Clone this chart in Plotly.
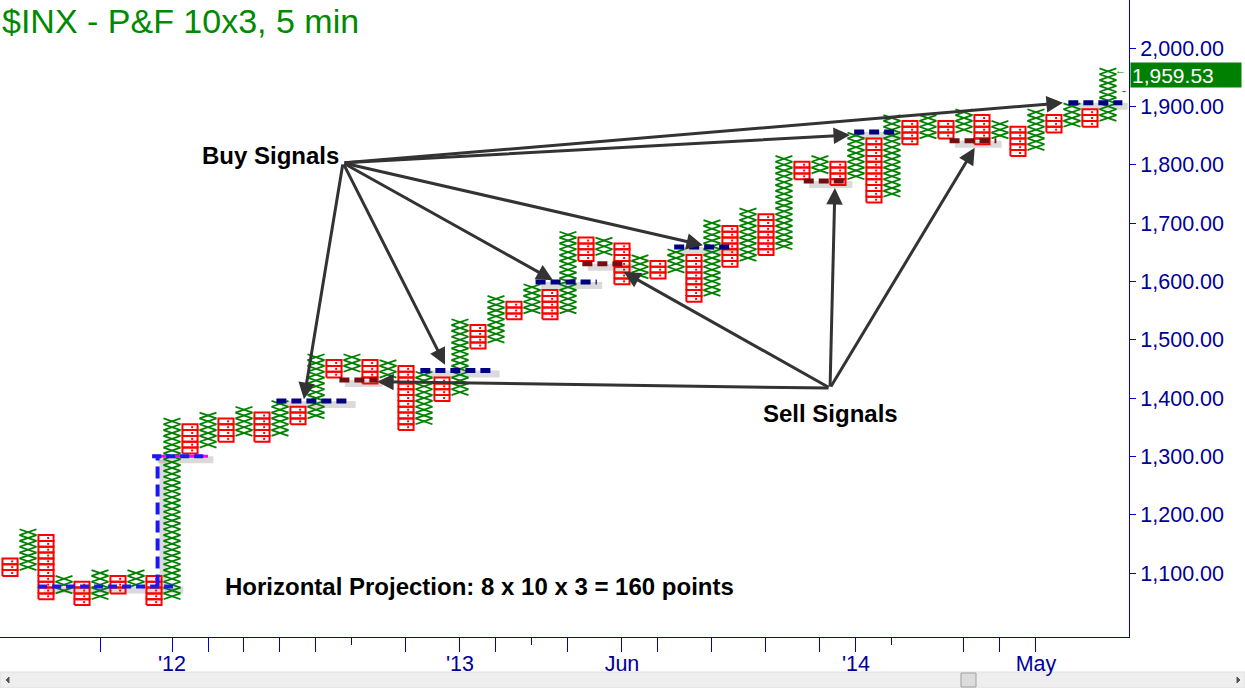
import plotly.graph_objects as go

# ---------------- data ----------------
BOX = 10
col_types = ["O", "X"] * 31
col_low = [1100, 1110, 1060, 1070, 1050, 1060, 1070, 1080, 1050, 1060,
           1310, 1320, 1330, 1340, 1330, 1340, 1360, 1370, 1440, 1450,
           1430, 1440, 1350, 1360, 1400, 1410, 1490, 1500, 1540, 1550,
           1540, 1550, 1640, 1650, 1600, 1610, 1610, 1620, 1570, 1580,
           1630, 1640, 1650, 1660, 1780, 1790, 1770, 1780, 1740, 1750,
           1840, 1850, 1850, 1860, 1840, 1850, 1820, 1830, 1860, 1870,
           1870, 1880]
col_high = [1120, 1170, 1160, 1090, 1080, 1100, 1090, 1100, 1090, 1360,
            1350, 1370, 1360, 1380, 1370, 1390, 1380, 1470, 1460, 1470,
            1460, 1460, 1450, 1440, 1430, 1530, 1520, 1570, 1560, 1590,
            1580, 1680, 1670, 1670, 1660, 1640, 1630, 1650, 1640, 1700,
            1690, 1720, 1710, 1810, 1800, 1810, 1800, 1850, 1840, 1880,
            1870, 1880, 1870, 1890, 1880, 1870, 1860, 1890, 1880, 1900,
            1890, 1960]
last_price = 1959.53
last_label = "1,959.53"

price_ticks = [1100, 1200, 1300, 1400, 1500, 1600, 1700, 1800, 1900, 2000]
date_tick_cols = [5, 9, 11, 13, 15, 17, 19, 22, 25, 27, 29, 31, 34, 36, 39, 42, 45, 47, 49, 53, 55, 57]
date_tick_text = ["", "'12", "", "", "", "", "", "", "'13", "", "", "", "Jun", "", "", "", "", "'14", "", "", "", "May"]
long_tick_cols = [5, 9, 11, 13, 15, 17, 22, 25, 27, 31, 34, 36, 39, 42, 45, 47, 53, 55, 57]

# signal lines: level, start column, end column
buy_levels = [1395, 1447, 1599, 1659, 1856, 1906]
buy_start = [14.8, 22.8, 29.2, 36.9, 46.9, 58.8]
buy_end = [18.9, 26.9, 32.6, 40.2, 49.4, 61.8]
sell_levels = [1431, 1630, 1772, 1841]
sell_start = [18.3, 31.8, 44.1, 52.2]
sell_end = [20.4, 34.3, 46.5, 54.8]

# horizontal projection
proj_base, proj_top = 1077, 1300
proj_base_x = [1.56, 9.33]
proj_vert_x = 8.2
proj_top_x = [7.9, 11.0]

# arrows: (head col, head price)
buy_origin = (18.5, 1803)
buy_heads = [(16.33, 1398), (24.17, 1457), (30.17, 1602), (38.5, 1662), (46.67, 1851), (58.5, 1906)]
sell_origin = (45.56, 1417)
sell_heads = [(20.4, 1428), (34.1, 1616), (45.83, 1760), (53.6, 1829)]

# ---------------- build marks ----------------
xs_x, ys_x, xs_o, ys_o, mx, my = [], [], [], [], [], []
for i, (t, lo, hi) in enumerate(zip(col_types, col_low, col_high)):
    n = int(round((hi - lo) / BOX)) + 1
    for k in range(n):
        v = lo + k * BOX
        h = BOX / 2
        if t == "X":
            w = 0.47
            xs_x += [i - w, i + w, None, i - w, i + w, None]
            ys_x += [v - h, v + h, None, v + h, v - h, None]
        else:
            w = 0.42
            xs_o += [i - w, i + w, i + w, i - w, i - w, None]
            ys_o += [v - h, v - h, v + h, v + h, v - h, None]
            mx.append(i + 0.12)
            my.append(v)

fig = go.Figure()

def seg_trace(xs, ys, color, width, dash=None, opacity=1.0):
    fig.add_trace(go.Scatter(x=xs, y=ys, mode="lines", hoverinfo="skip",
                             line=dict(color=color, width=width, dash=dash),
                             opacity=opacity, showlegend=False))

# shadows
sx, sy = [], []
for lv, a, b in zip(buy_levels + sell_levels, buy_start + sell_start, buy_end + sell_end):
    sx += [a + 0.3, b + 0.3, None]
    sy += [lv - 6, lv - 6, None]
sx += [proj_base_x[0] + 0.3, proj_base_x[1] + 0.3, None, proj_vert_x + 0.3, proj_vert_x + 0.3, None,
       proj_top_x[0] + 0.3, proj_top_x[1] + 0.3, None]
sy += [proj_base - 6, proj_base - 6, None, proj_base - 6, proj_top - 6, None, proj_top - 6, proj_top - 6, None]
seg_trace(sx, sy, "rgba(150,150,150,0.35)", 7)

# P&F columns
fig.add_trace(go.Scatter(x=xs_x, y=ys_x, mode="lines", hoverinfo="skip",
                         line=dict(color="#008000", width=1.8), showlegend=False))
fig.add_trace(go.Scatter(x=xs_o, y=ys_o, mode="lines", hoverinfo="skip",
                         line=dict(color="#FF0000", width=2), showlegend=False))
fig.add_trace(go.Scatter(x=mx, y=my, mode="markers", hoverinfo="skip",
                         marker=dict(symbol="square", size=2, color="#FF0000", line=dict(width=0)),
                         showlegend=False))

# projection lines
seg_trace(proj_top_x, [proj_top, proj_top], "#FF00FF", 3)
seg_trace(proj_top_x, [proj_top, proj_top], "#1A1AF0", 4, dash="9px,5px")
seg_trace(proj_base_x, [proj_base, proj_base], "#1A1AF0", 4, dash="9px,5px")
seg_trace([proj_vert_x, proj_vert_x], [proj_base, proj_top], "#1A1AF0", 4, dash="12px,6px")

# signal lines
bx, by = [], []
for lv, a, b in zip(buy_levels, buy_start, buy_end):
    bx += [a, b, None]; by += [lv, lv, None]
seg_trace(bx, by, "#000080", 5, dash="10px,5px")
rx, ry = [], []
for lv, a, b in zip(sell_levels, sell_start, sell_end):
    rx += [a, b, None]; ry += [lv, lv, None]
seg_trace(rx, ry, "#701010", 5, dash="10px,5px")

annotations = []
for (hx, hy) in buy_heads:
    annotations.append(dict(x=hx, y=hy, ax=buy_origin[0], ay=buy_origin[1], xref="x", yref="y",
                            axref="x", ayref="y", text="", showarrow=True, arrowhead=2,
                            arrowsize=1.1, arrowwidth=3, arrowcolor="#333333", standoff=0))
for (hx, hy) in sell_heads:
    annotations.append(dict(x=hx, y=hy, ax=sell_origin[0], ay=sell_origin[1], xref="x", yref="y",
                            axref="x", ayref="y", text="", showarrow=True, arrowhead=2,
                            arrowsize=1.1, arrowwidth=3, arrowcolor="#333333", standoff=0))

lbl_font = dict(family="Arial, Liberation Sans, sans-serif", size=24, color="#000000")
annotations += [
    dict(x=14.5, y=1815, xref="x", yref="y", text="<b>Buy Signals</b>", showarrow=False, font=lbl_font),
    dict(x=45.56, y=1374, xref="x", yref="y", text="<b>Sell Signals</b>", showarrow=False, font=lbl_font),
    dict(x=26.1, y=1077.7, xref="x", yref="y", text="<b>Horizontal Projection: 8 x 10 x 3 = 160 points</b>",
         showarrow=False, font=lbl_font),
    dict(x=0.0, y=(637 - 21) / 637, xref="paper", yref="paper", xanchor="left", yanchor="middle",
         text="$INX - P&F 10x3, 5 min", showarrow=False,
         font=dict(family="Arial, Liberation Sans, sans-serif", size=34, color="#008A00")),
    dict(x=1, y=last_price, xref="paper", yref="y", xanchor="left", yanchor="middle", xshift=1, yshift=-3,
         text=last_label, showarrow=False, bgcolor="#008000", width=108, height=22, align="left",
         borderpad=1, font=dict(family="Arial, Liberation Sans, sans-serif", size=21, color="#FFFFFF")),
    dict(x=1, y=last_price, xref="paper", yref="y", xanchor="right", yanchor="middle", xshift=-1, yshift=2,
         text="←", showarrow=False, font=dict(family="Arial, Liberation Sans, sans-serif", size=11, color="#008000")),
    dict(x=1, y=1928, xref="paper", yref="y", xanchor="right", yanchor="middle", xshift=-1,
         text="-", showarrow=False, font=dict(family="Arial, Liberation Sans, sans-serif", size=13, color="#FF0000")),
]

# scrollbar decoration
shapes = [
    dict(type="rect", xref="paper", yref="paper", x0=0, x1=1245 / 1129, y0=(637 - 672) / 637, y1=(637 - 688) / 637,
         fillcolor="#EEEEEE", line=dict(color="#E0E0E0", width=1), layer="below"),
    dict(type="rect", xref="paper", yref="paper", x0=961 / 1129, x1=976 / 1129, y0=(637 - 673) / 637,
         y1=(637 - 687) / 637, fillcolor="#DCDCDC", line=dict(color="#A0A0A0", width=1), layer="below"),
    dict(type="path", xref="paper", yref="paper",
         path="M %f,%f L %f,%f L %f,%f Z" % (6 / 1129, (637 - 680) / 637, 9 / 1129, (637 - 677) / 637,
                                              9 / 1129, (637 - 683) / 637),
         fillcolor="#555555", line=dict(color="#555555", width=1)),
    dict(type="path", xref="paper", yref="paper",
         path="M %f,%f L %f,%f L %f,%f Z" % (1240 / 1129, (637 - 680) / 637, 1237 / 1129, (637 - 677) / 637,
                                              1237 / 1129, (637 - 683) / 637),
         fillcolor="#555555", line=dict(color="#555555", width=1)),
]

axis_font = dict(family="Arial, Liberation Sans, sans-serif", size=21.5, color="#000099")
fig.update_layout(
    width=1245, height=688,
    margin=dict(l=0, r=116, t=0, b=51),
    paper_bgcolor="white", plot_bgcolor="white",
    showlegend=False,
    annotations=annotations,
    shapes=shapes,
    xaxis=dict(range=[-0.556, 62.17], showgrid=False, zeroline=False,
               showline=True, linecolor="#0000CC", linewidth=1,
               ticks="outside", ticklen=7, tickcolor="#0000CC", tickwidth=1,
               tickmode="array", tickvals=date_tick_cols, ticktext=date_tick_text,
               tickfont=axis_font,
               minor=dict(tickmode="array", tickvals=long_tick_cols, ticks="outside",
                          ticklen=14, tickcolor="#0000CC", tickwidth=1, showgrid=False)),
    yaxis=dict(range=[990.3, 2082.3], side="right", showgrid=False, zeroline=False,
               showline=True, linecolor="#0000CC", linewidth=1,
               ticks="outside", ticklen=6, tickcolor="#0000CC",
               tickmode="array", tickvals=price_ticks, tickformat=",.2f",
               tickfont=axis_font),
)

fig.write_html("out.html", config={"displayModeBar": False},
               post_script="document.body.style.margin='0px';document.body.style.overflow='hidden';")
